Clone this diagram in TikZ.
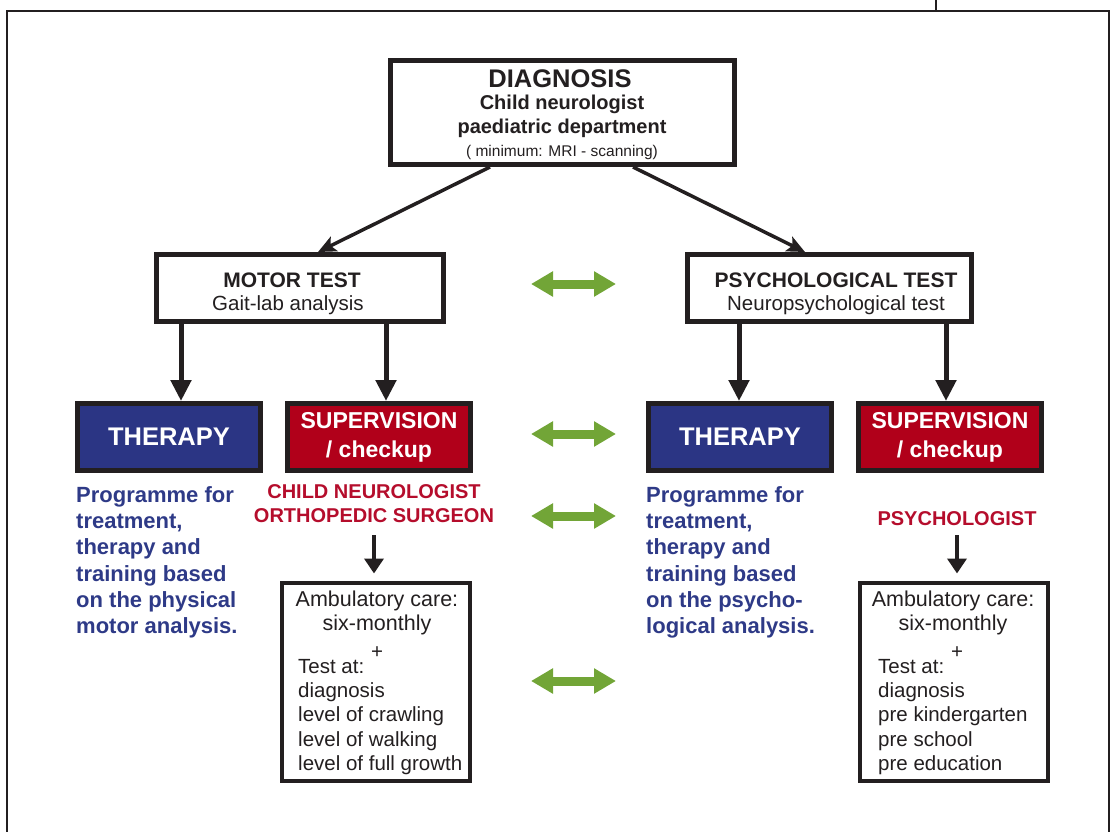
\documentclass[tikz,border=0pt]{standalone}
\usepackage{fontspec}
\setmainfont{Liberation Sans}
\usetikzlibrary{arrows.meta}
\definecolor{frame}{HTML}{231F20}
\definecolor{navy}{HTML}{2B3584}
\definecolor{crimson}{HTML}{B1001A}
\definecolor{navytext}{HTML}{2E3A87}
\definecolor{redtext}{HTML}{B50D2C}
\definecolor{leaf}{HTML}{72A537}
\newcommand{\fsz}[2]{\fontsize{#1}{#2}\selectfont}
\begin{document}
\begin{tikzpicture}[x=1pt,y=-1pt,
  box/.style={draw=frame, line width=5pt, fill=white, rectangle, inner sep=0pt},
  tbox/.style={draw=frame, line width=5pt, fill=navy, rectangle, inner sep=0pt,
    minimum width=183pt, minimum height=67pt, text=white, font=\bfseries\fsz{25.5}{30}},
  sbox/.style={draw=frame, line width=5pt, fill=crimson, rectangle, inner sep=0pt,
    minimum width=183pt, minimum height=67pt, text=white, align=center, font=\bfseries\fsz{23}{29}},
  abox/.style={draw=frame, line width=4pt, fill=white, rectangle, inner sep=0pt,
    minimum width=188pt, minimum height=198pt},
  txt/.style={inner sep=0pt, text=frame},
  bluetxt/.style={inner sep=0pt, anchor=north west, align=left, text=navytext, font=\bfseries\fsz{22}{26.3}},
  redlbl/.style={inner sep=0pt, align=center, text=redtext, font=\bfseries\fsz{20}{24}},
  amb/.style={inner sep=0pt, text=frame, font=\fsz{20.5}{24}},
  ambtop/.style={inner sep=0pt, text=frame, font=\fsz{21.5}{24}},
  diagarrow/.style={draw=frame, line width=3.5pt, -{Stealth[length=18pt,width=16pt,inset=4pt]}},
  downarrow/.style={draw=frame, line width=5pt, -{Triangle[length=21pt,width=20pt]}},
  smallarrow/.style={draw=frame, line width=4.5pt, -{Triangle[length=15pt,width=19pt]}},
  greenarrow/.style={draw=leaf, line width=9pt, {Triangle[length=22pt,width=24pt]}-{Triangle[length=22pt,width=24pt]}},
  outer/.style={draw=frame, line width=2pt}
]
\useasboundingbox (0,0) rectangle (1112,832);

% outer frame
\draw[outer] (7,833) -- (7,11) -- (1109,11) -- (1109,833);
\draw[outer] (936,0) -- (936,11);

% diagnosis
\node[box, minimum width=344pt, minimum height=104pt] (diag) at (562,112.5) {};
\node[txt, anchor=base, font=\bfseries\fsz{25.5}{30}] (d1) at (560,88) {DIAGNOSIS};
\node[txt, anchor=base, font=\bfseries\fsz{20}{24}] (d2) at (562,110) {Child neurologist};
\node[txt, anchor=base, font=\bfseries\fsz{20}{24}] (d3) at (562,134) {paediatric department};
\node[txt, anchor=base, font=\fsz{15.5}{18}] (d4) at (562,157) {( minimum: MRI - scanning)};

% tests
\node[box, minimum width=287pt, minimum height=67pt] (motor) at (300,288) {};
\node[txt, anchor=base, font=\bfseries\fsz{21}{25}] (m1) at (292,287) {MOTOR TEST};
\node[txt, anchor=base, font=\fsz{20.5}{24}] (m2) at (288,310) {Gait-lab analysis};

\node[box, minimum width=284pt, minimum height=67pt] (psych) at (829,288) {};
\node[txt, anchor=base, font=\bfseries\fsz{21}{25}] (p1) at (836,287) {PSYCHOLOGICAL TEST};
\node[txt, anchor=base, font=\fsz{20.5}{24}] (p2) at (836,310) {Neuropsychological test};

% therapy / supervision
\node[tbox] (thL) at (169,437) {THERAPY\hspace{6pt}};
\node[sbox] (supL) at (379,437) {SUPERVISION\\/ checkup};
\node[tbox] (thR) at (740,437) {THERAPY\hspace{12pt}};
\node[sbox] (supR) at (950,437) {SUPERVISION\\/ checkup};

% blue programme texts
\node[bluetxt] (progL) at (76,486) {Programme for\\treatment,\\therapy and\\training based\\on the physical\\motor analysis.};
\node[bluetxt] (progR) at (646,486) {Programme for\\treatment,\\therapy and\\training based\\on the psycho-\\logical analysis.};

% red labels
\node[redlbl, anchor=north] (redL) at (374,484.7) {CHILD NEUROLOGIST\\ORTHOPEDIC SURGEON};
\node[redlbl, anchor=base] (redR) at (957,525) {PSYCHOLOGIST};

% ambulatory boxes
\node[abox] (ambL) at (376,681.5) {};
\node[ambtop, anchor=base] (aL1) at (377,606) {Ambulatory care:};
\node[ambtop, anchor=base] (aL2) at (377,630) {six-monthly};
\node[amb, anchor=base] (aL3) at (377,658) {+};
\node[amb, anchor=base west] (aL4) at (298,673) {Test at:};
\node[amb, anchor=north west, align=left, font=\fsz{20.5}{24.3}] (aL5) at (298,682.5) {diagnosis\\level of crawling\\level of walking\\level of full growth};

\node[abox] (ambR) at (954,681.5) {};
\node[ambtop, anchor=base] (aR1) at (953,606) {Ambulatory care:};
\node[ambtop, anchor=base] (aR2) at (953,630) {six-monthly};
\node[amb, anchor=base] (aR3) at (957,658) {+};
\node[amb, anchor=base west] (aR4) at (878,673) {Test at:};
\node[amb, anchor=north west, align=left, font=\fsz{20.5}{24.3}] (aR5) at (878,682.5) {diagnosis\\pre kindergarten\\pre school\\pre education};

% connectors
\draw[diagarrow] ([xshift=-72pt]diag.south) -- ([xshift=18pt]motor.north);
\draw[diagarrow] ([xshift=71pt]diag.south) -- ([xshift=-24pt]psych.north);

\draw[downarrow] ([xshift=12pt]thL.north |- motor.south) -- ([xshift=12pt]thL.north);
\draw[downarrow] ([xshift=7pt]supL.north |- motor.south) -- ([xshift=7pt]supL.north);
\draw[downarrow] ([xshift=-1pt]thR.north |- psych.south) -- ([xshift=-1pt]thR.north);
\draw[downarrow] ([xshift=-4pt]supR.north |- psych.south) -- ([xshift=-4pt]supR.north);

\draw[smallarrow, shorten >=7pt] ([yshift=-12pt]redL.south) -- (redL.south |- ambL.north);
\draw[smallarrow, shorten >=7pt] ([yshift=-10pt]redR.south) -- (redR.south |- ambR.north);

% green double arrows
\coordinate (g1w) at (531,284); \coordinate (g1e) at (616,284);
\coordinate (g2w) at (531,434); \coordinate (g2e) at (616,434);
\coordinate (g3w) at (531,516); \coordinate (g3e) at (616,516);
\coordinate (g4w) at (531,681); \coordinate (g4e) at (616,681);
\draw[greenarrow] (g1w) -- (g1e);
\draw[greenarrow] (g2w) -- (g2e);
\draw[greenarrow] (g3w) -- (g3e);
\draw[greenarrow] (g4w) -- (g4e);
\end{tikzpicture}
\end{document}
